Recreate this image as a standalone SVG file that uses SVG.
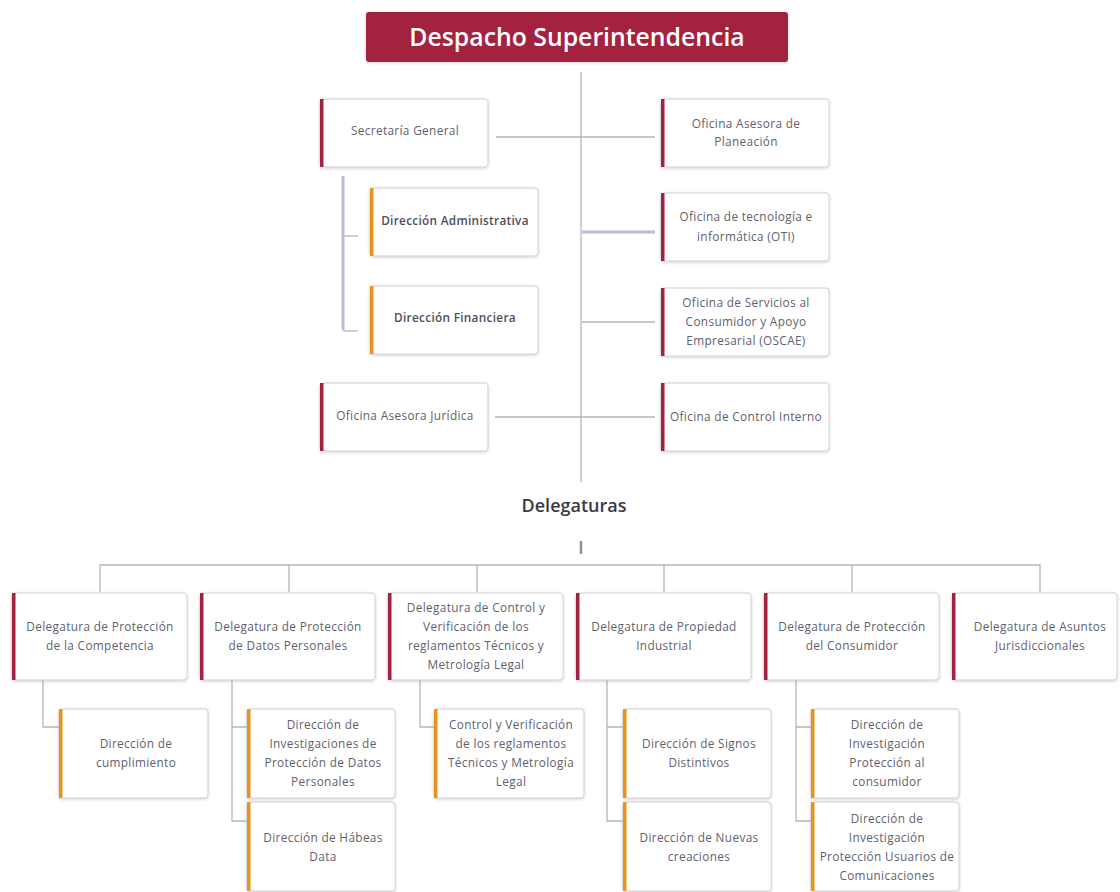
<svg xmlns="http://www.w3.org/2000/svg" width="1120" height="892" viewBox="0 0 1120 892">
<defs>
<filter id="sh" x="-10%" y="-10%" width="120%" height="130%">
<feDropShadow dx="0" dy="1" stdDeviation="1.5" flood-color="#000" flood-opacity="0.18"/>
</filter>
<style>
.box{fill:#fff;stroke:#cfcfd4;stroke-width:1;filter:url(#sh)}
.red{fill:#a3203f}
.org{fill:#e8941a}
.t{font-family:"Open Sans","Liberation Sans",sans-serif;font-size:11.8px;letter-spacing:0.35px;fill:#5f5f6e;text-anchor:middle}
.tb{font-family:"Open Sans","Liberation Sans",sans-serif;font-size:11.8px;letter-spacing:0.3px;fill:#4e4e5e;text-anchor:middle;font-weight:600}
.ln{stroke:#b2b6c2;stroke-width:1.3;fill:none}
.lnb{stroke:#b8bcd4;stroke-width:3;fill:none}
</style>
</defs>
<rect width="1120" height="892" fill="#fff"/>

<g id="connectors">
<line class="ln" x1="581" y1="72" x2="581" y2="482"/>
<line class="ln" x1="496" y1="137" x2="655" y2="137"/>
<line class="lnb" x1="582" y1="232" x2="655" y2="232" stroke-width="2.5"/>
<line class="ln" x1="582" y1="322" x2="655" y2="322" stroke-width="2"/>
<line class="ln" x1="495" y1="417" x2="655" y2="417"/>
<line class="lnb" x1="343" y1="176" x2="343" y2="330"/>
<line class="ln" x1="343" y1="236" x2="358" y2="236"/>
<line class="ln" x1="343" y1="331" x2="358" y2="331"/>
<line x1="581" y1="541" x2="581" y2="554" stroke="#8a90a0" stroke-width="2.5"/>
<path class="ln" d="M100,592 V565 H1040 V592 M289,565 V592 M477,565 V592 M664,565 V592 M852,565 V592"/>
<path class="ln" d="M43,680 V727 H59"/>
<path class="ln" d="M232,680 V821 H247 M232,727 H247"/>
<path class="ln" d="M420,680 V727 H434"/>
<path class="ln" d="M607,680 V821 H623 M607,727 H623"/>
<path class="ln" d="M796,680 V821 H811 M796,727 H811"/>
</g>

<g id="header">
<rect x="366" y="12" width="422" height="50" rx="3" fill="#a3203f" filter="url(#sh)"/>
<text x="577" y="46" font-family="'Open Sans','Liberation Sans',sans-serif" font-size="24.8" font-weight="600" fill="#fff" text-anchor="middle">Despacho Superintendencia</text>
</g>

<g id="secretaria-general">
<rect class="box" x="320" y="99" width="168" height="68" rx="3"/><rect class="red" x="320" y="99" width="3.5" height="68"/>
<text class="t" x="405" y="135">Secretaría General</text>
</g>
<g id="oficina-planeacion">
<rect class="box" x="661" y="99" width="168" height="68" rx="3"/><rect class="red" x="661" y="99" width="3.5" height="68"/>
<text class="t" x="746" y="128">Oficina Asesora de</text>
<text class="t" x="746" y="146">Planeación</text>
</g>
<g id="direccion-administrativa">
<rect class="box" x="370" y="188" width="168" height="68" rx="3"/><rect class="org" x="370" y="188" width="3.5" height="68"/>
<text class="tb" x="455" y="225">Dirección Administrativa</text>
</g>
<g id="oficina-oti">
<rect class="box" x="661" y="193" width="168" height="68" rx="3"/><rect class="red" x="661" y="193" width="3.5" height="68"/>
<text class="t" x="746" y="221">Oficina de tecnología e</text>
<text class="t" x="746" y="241">informática (OTI)</text>
</g>
<g id="direccion-financiera">
<rect class="box" x="370" y="286" width="168" height="68" rx="3"/><rect class="org" x="370" y="286" width="3.5" height="68"/>
<text class="tb" x="455" y="322">Dirección Financiera</text>
</g>
<g id="oficina-oscae">
<rect class="box" x="661" y="288" width="168" height="68" rx="3"/><rect class="red" x="661" y="288" width="3.5" height="68"/>
<text class="t" x="746" y="307">Oficina de Servicios al</text>
<text class="t" x="746" y="326">Consumidor y Apoyo</text>
<text class="t" x="746" y="345">Empresarial (OSCAE)</text>
</g>
<g id="oficina-juridica">
<rect class="box" x="320" y="383" width="168" height="68" rx="3"/><rect class="red" x="320" y="383" width="3.5" height="68"/>
<text class="t" x="405" y="420">Oficina Asesora Jurídica</text>
</g>
<g id="oficina-control-interno">
<rect class="box" x="661" y="383" width="168" height="68" rx="3"/><rect class="red" x="661" y="383" width="3.5" height="68"/>
<text class="t" x="746" y="421">Oficina de Control Interno</text>
</g>

<g id="delegaturas-title">
<text x="574" y="512" font-family="'Open Sans','Liberation Sans',sans-serif" font-size="18" font-weight="600" fill="#3a3a48" text-anchor="middle">Delegaturas</text>
</g>

<g id="del-competencia">
<rect class="box" x="12" y="593" width="175" height="87" rx="3"/><rect class="red" x="12" y="593" width="3.5" height="87"/>
<text class="t" x="100" y="631">Delegatura de Protección</text>
<text class="t" x="100" y="650">de la Competencia</text>
</g>
<g id="del-datos">
<rect class="box" x="200" y="593" width="175" height="87" rx="3"/><rect class="red" x="200" y="593" width="3.5" height="87"/>
<text class="t" x="288" y="631">Delegatura de Protección</text>
<text class="t" x="288" y="650">de Datos Personales</text>
</g>
<g id="del-control">
<rect class="box" x="388" y="593" width="175" height="87" rx="3"/><rect class="red" x="388" y="593" width="3.5" height="87"/>
<text class="t" x="476" y="612">Delegatura de Control y</text>
<text class="t" x="476" y="631">Verificación de los</text>
<text class="t" x="476" y="650">reglamentos Técnicos y</text>
<text class="t" x="476" y="669">Metrología Legal</text>
</g>
<g id="del-propiedad">
<rect class="box" x="576" y="593" width="175" height="87" rx="3"/><rect class="red" x="576" y="593" width="3.5" height="87"/>
<text class="t" x="664" y="631">Delegatura de Propiedad</text>
<text class="t" x="664" y="650">Industrial</text>
</g>
<g id="del-consumidor">
<rect class="box" x="764" y="593" width="175" height="87" rx="3"/><rect class="red" x="764" y="593" width="3.5" height="87"/>
<text class="t" x="852" y="631">Delegatura de Protección</text>
<text class="t" x="852" y="650">del Consumidor</text>
</g>
<g id="del-jurisdiccionales">
<rect class="box" x="952" y="593" width="165" height="87" rx="3"/><rect class="red" x="952" y="593" width="3.5" height="87"/>
<text class="t" x="1040" y="631">Delegatura de Asuntos</text>
<text class="t" x="1040" y="650">Jurisdiccionales</text>
</g>

<g id="dir-cumplimiento">
<rect class="box" x="59" y="709" width="149" height="89" rx="3"/><rect class="org" x="59" y="709" width="3.5" height="89"/>
<text class="t" x="136" y="748">Dirección de</text>
<text class="t" x="136" y="767">cumplimiento</text>
</g>
<g id="dir-inv-datos">
<rect class="box" x="247" y="709" width="148" height="89" rx="3"/><rect class="org" x="247" y="709" width="3.5" height="89"/>
<text class="t" x="323" y="729">Dirección de</text>
<text class="t" x="323" y="748">Investigaciones de</text>
<text class="t" x="323" y="767">Protección de Datos</text>
<text class="t" x="323" y="786">Personales</text>
</g>
<g id="dir-habeas">
<rect class="box" x="247" y="802" width="148" height="89" rx="3"/><rect class="org" x="247" y="802" width="3.5" height="89"/>
<text class="t" x="323" y="842">Dirección de Hábeas</text>
<text class="t" x="323" y="861">Data</text>
</g>
<g id="dir-control-verif">
<rect class="box" x="434" y="709" width="150" height="89" rx="3"/><rect class="org" x="434" y="709" width="3.5" height="89"/>
<text class="t" x="511" y="729">Control y Verificación</text>
<text class="t" x="511" y="748">de los reglamentos</text>
<text class="t" x="511" y="767">Técnicos y Metrología</text>
<text class="t" x="511" y="786">Legal</text>
</g>
<g id="dir-signos">
<rect class="box" x="623" y="709" width="148" height="89" rx="3"/><rect class="org" x="623" y="709" width="3.5" height="89"/>
<text class="t" x="699" y="748">Dirección de Signos</text>
<text class="t" x="699" y="767">Distintivos</text>
</g>
<g id="dir-nuevas">
<rect class="box" x="623" y="802" width="148" height="89" rx="3"/><rect class="org" x="623" y="802" width="3.5" height="89"/>
<text class="t" x="699" y="842">Dirección de Nuevas</text>
<text class="t" x="699" y="861">creaciones</text>
</g>
<g id="dir-inv-consumidor">
<rect class="box" x="811" y="709" width="148" height="89" rx="3"/><rect class="org" x="811" y="709" width="3.5" height="89"/>
<text class="t" x="887" y="729">Dirección de</text>
<text class="t" x="887" y="748">Investigación</text>
<text class="t" x="887" y="767">Protección al</text>
<text class="t" x="887" y="786">consumidor</text>
</g>
<g id="dir-inv-comunicaciones">
<rect class="box" x="811" y="802" width="148" height="89" rx="3"/><rect class="org" x="811" y="802" width="3.5" height="89"/>
<text class="t" x="887" y="823">Dirección de</text>
<text class="t" x="887" y="842">Investigación</text>
<text class="t" x="887" y="861">Protección Usuarios de</text>
<text class="t" x="887" y="880">Comunicaciones</text>
</g>
</svg>
